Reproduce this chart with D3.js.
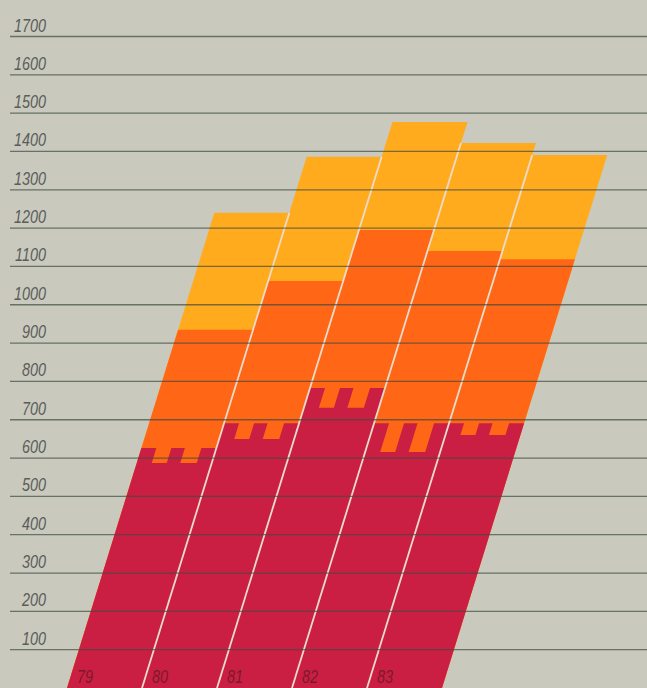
<!DOCTYPE html>
<html>
<head>
<meta charset="utf-8">
<script src="https://cdn.jsdelivr.net/npm/d3@7"></script>
<style>
  body { margin: 0; background: #c9cabd; }
  svg { display: block; }
  .tick-label { font-family: "Liberation Sans Narrow", "Liberation Sans", sans-serif; font-style: italic; font-size: 18px; fill: #5a5d5c; }
  .year-label { font-family: "Liberation Sans Narrow", "Liberation Sans", sans-serif; font-style: italic; font-size: 18px; fill: #7a1a2c; }
</style>
</head>
<body>
<div id="chart"></div>
<script>
// data
const years = ['79', '80', '81', '82', '83']
const baseVals = [587, 650, 731, 616, 660]    // crimson, bottom of the notches
const crestVals = [626, 691, 783, 691, 691]   // crimson, top of the battlements
const midVals = [935, 1062, 1195, 1140, 1119] // orange top
const topVals = [1240, 1386, 1477, 1422, 1391] // yellow top
const tickVals = [100, 200, 300, 400, 500, 600, 700, 800, 900, 1000, 1100, 1200, 1300, 1400, 1500, 1600, 1700]

const width = 647
const height = 688
const slant = 0.31 // bars lean right
const notches = [[0.2, 0.4], [0.58, 0.8]]
const squeeze = 0.8 // condensed look for the labels

const svg = d3.select('#chart')
    .append('svg')
    .attr('width', width)
    .attr('height', height)

svg.append('rect')
    .attr('width', width)
    .attr('height', height)
    .attr('fill', '#c9cabd')

const yScale = d3.scaleLinear().domain([0, 1700]).range([height, 36.5])
const xScale = d3.scaleBand().domain(years).range([67, 442]).padding(0)
const w = xScale.bandwidth()

// point at fraction f across the bar, value v up the bar
function pt(year, f, v) {
    const y = yScale(v)
    return [xScale(year) + f * w + (height - y) * slant, y]
}

function segment(year, v0, v1) {
    return [pt(year, 0, v0), pt(year, 1, v0), pt(year, 1, v1), pt(year, 0, v1)]
}

function castle(year, base, crest) {
    const p = [pt(year, 0, 0), pt(year, 0, crest)]
    notches.forEach(n => {
        p.push(pt(year, n[0], crest), pt(year, n[0], base), pt(year, n[1], base), pt(year, n[1], crest))
    })
    p.push(pt(year, 1, crest), pt(year, 1, 0))
    return p
}

const line = d3.line()

years.forEach((yr, i) => {
    svg.append('path')
        .attr('d', line(segment(yr, 0, topVals[i])) + 'Z')
        .attr('fill', '#ffab1d')
    svg.append('path')
        .attr('d', line(segment(yr, 0, midVals[i])) + 'Z')
        .attr('fill', '#ff6717')
    svg.append('path')
        .attr('d', line(castle(yr, baseVals[i], crestVals[i])) + 'Z')
        .attr('fill', '#ca1f42')
})

// thin light gaps between bars
years.forEach((yr, i) => {
    if (i == 0) return
    const vTop = Math.min(topVals[i - 1], topVals[i])
    svg.append('path')
        .attr('d', line([pt(yr, 0, 0), pt(yr, 0, vTop)]))
        .attr('stroke', '#eadccb')
        .attr('stroke-width', 1.8)
        .attr('fill', 'none')
})

// gridlines over everything
svg.append('g')
    .selectAll('line')
    .data(tickVals)
    .join('line')
    .attr('x1', 10)
    .attr('x2', width)
    .attr('y1', d => yScale(d))
    .attr('y2', d => yScale(d))
    .attr('stroke', '#3d4c42')
    .attr('stroke-opacity', 0.7)
    .attr('stroke-width', 1.3)

svg.append('g')
    .selectAll('text')
    .data(tickVals)
    .join('text')
    .attr('class', 'tick-label')
    .attr('transform', d => `translate(46,${yScale(d) - 5}) scale(${squeeze},1)`)
    .attr('text-anchor', 'end')
    .text(d => d)

svg.append('g')
    .selectAll('text')
    .data(years)
    .join('text')
    .attr('class', 'year-label')
    .attr('transform', d => `translate(${pt(d, 0, 0)[0] + 10},${height - 5}) scale(${squeeze},1)`)
    .text(d => d)
</script>
</body>
</html>
